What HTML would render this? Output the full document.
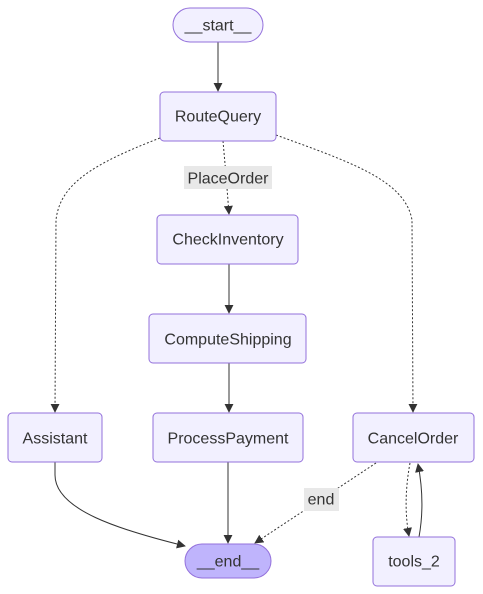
<!DOCTYPE html>
<html><head><meta charset="utf-8"><style>
html,body{margin:0;padding:0;background:#fff;}
svg{display:block;}
text{font-family:"Liberation Sans",Arial,sans-serif;font-size:16px;fill:#333;text-anchor:middle;dominant-baseline:central;}
.n{fill:#f2f0ff;stroke:#9370db;stroke-width:1;}
.e{fill:none;stroke:#333;stroke-width:1;}
.d{stroke-dasharray:2,2;}
</style></head><body>
<svg width="483" height="594" viewBox="0 0 483 594" xmlns="http://www.w3.org/2000/svg">
<defs><marker id="a" viewBox="0 0 10 10" refX="9" refY="5" markerWidth="9" markerHeight="9" orient="auto"><path d="M0,0L10,5L0,10z" fill="#333"/></marker></defs>
<path class="e" d="M218,42V91" marker-end="url(#a)"/>
<path class="e d" d="M223,141 L226,175 L229,214" marker-end="url(#a)"/>
<path class="e d" d="M160,138 C90,165 60,185 56,220 L55,412" marker-end="url(#a)"/>
<path class="e d" d="M276,135 C350,162 405,180 412,220 L413,412" marker-end="url(#a)"/>
<path class="e" d="M229,264V313" marker-end="url(#a)"/>
<path class="e" d="M229,363V412" marker-end="url(#a)"/>
<path class="e" d="M55,462 L55,475 C55,510 120,530 185,546" marker-end="url(#a)"/>
<path class="e" d="M228,462V543" marker-end="url(#a)"/>
<path class="e d" d="M376,463 L255,543" marker-end="url(#a)"/>
<path class="e d" d="M410,463 C405,490 405,515 409,536" marker-end="url(#a)"/>
<path class="e" d="M419,537 C423,515 423,490 418,464" marker-end="url(#a)"/>
<rect x="184" y="166" width="88" height="23" fill="#e8e8e8"/>
<text x="228" y="179">PlaceOrder</text>
<rect x="304" y="488" width="35" height="23" fill="#e8e8e8"/>
<text x="321" y="500">end</text>
<rect class="n" x="173" y="8" width="90" height="34" rx="17"/>
<text x="218" y="26">__start__</text>
<rect class="n" x="160" y="92" width="116" height="49" rx="4"/>
<text x="218" y="117">RouteQuery</text>
<rect class="n" x="157" y="215" width="141" height="49" rx="4"/>
<text x="228" y="240">CheckInventory</text>
<rect class="n" x="149" y="314" width="157" height="49" rx="4"/>
<text x="228" y="340">ComputeShipping</text>
<rect class="n" x="8" y="413" width="94" height="49" rx="4"/>
<text x="55" y="439">Assistant</text>
<rect class="n" x="153" y="413" width="150" height="49" rx="4"/>
<text x="228" y="439">ProcessPayment</text>
<rect class="n" x="353" y="413" width="121" height="49" rx="4"/>
<text x="413" y="439">CancelOrder</text>
<rect x="185" y="544" width="86" height="34" rx="17" fill="#bfb4fc" stroke="#9370db"/>
<text x="228" y="562">__end__</text>
<rect class="n" x="373" y="537" width="82" height="49" rx="4"/>
<text x="414" y="562">tools_2</text>
</svg>
</body></html>
